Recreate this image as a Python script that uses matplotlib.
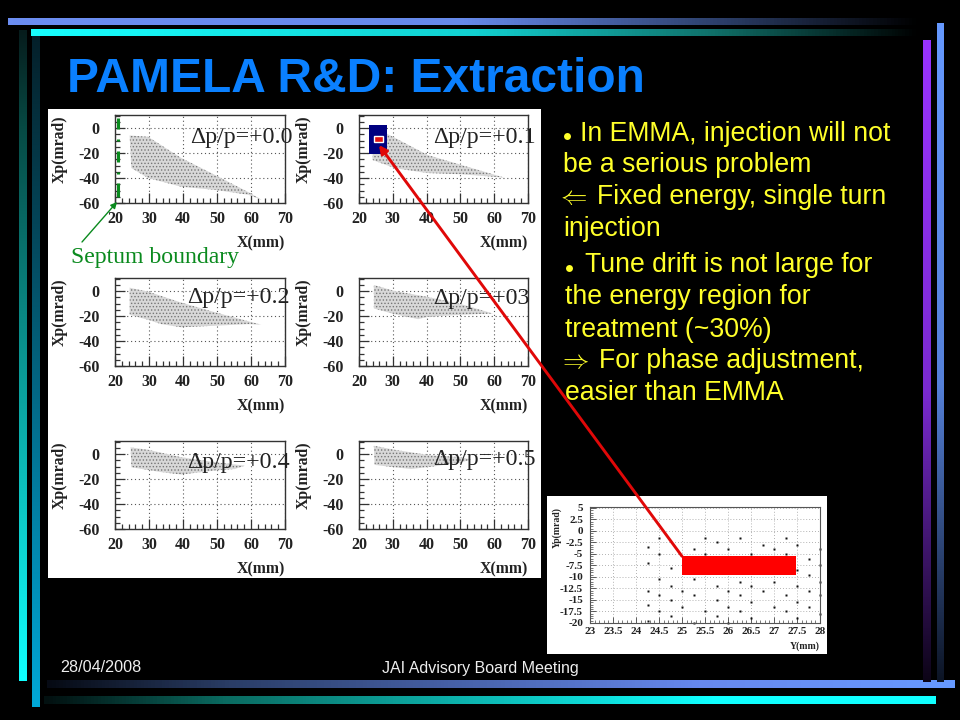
import numpy as np
import matplotlib
matplotlib.use('Agg')
import matplotlib.pyplot as plt
from matplotlib.colors import LinearSegmentedColormap
from matplotlib.patches import Polygon, Rectangle, ConnectionPatch
from matplotlib.ticker import MultipleLocator, FixedLocator, FixedFormatter

W, H = 960, 720
SERIF = 'Liberation Serif'
SANS = 'Liberation Sans'
plt.rcParams['hatch.linewidth'] = 0.6
plt.rcParams['axes.unicode_minus'] = False

# phase space outlines (x mm, xp mrad)
cloud_00 = [(24.3, -6), (29.7, -7), (39.5, -24), (49.4, -37.6), (59.2, -51.3), (63.1, -57.4),
            (59.2, -53.4), (49.4, -49.5), (39.5, -47), (29.7, -40), (24.8, -32)]
cloud_01 = [(24, -2), (28.2, -4.5), (40.4, -21.7), (50.3, -29.6), (63, -39.7),
            (60, -39), (50, -37), (40, -36), (30.5, -32), (24, -25.6)]
cloud_02 = [(24.3, 2.6), (29.7, -0.5), (39.5, -9.3), (49.4, -17), (63, -27),
            (59.2, -26.5), (49.4, -27.8), (39.5, -29), (33.6, -26.5), (29.7, -23), (24.3, -19)]
cloud_03 = [(24.4, 4.8), (30.5, 0), (40.4, -4.8), (50.3, -10.6), (59.6, -18),
            (50.3, -19), (40.4, -20.6), (37.5, -22.5), (30.5, -18.5), (24.4, -14)]
cloud_04 = [(24.6, 5.3), (29.7, 3.4), (39.5, -2.6), (49.4, -6.6), (58.2, -9.3),
            (55.3, -12), (49.4, -13.2), (39.5, -16.4), (33.6, -14.5), (24.8, -10.6)]
cloud_05 = [(24.4, 6.6), (30.5, 3.4), (40.4, -0.8), (50.3, -2.6), (53.2, -4.5),
            (50.3, -6.6), (42.4, -9.8), (35.5, -12), (30.5, -10.6), (24.6, -8.7)]
clouds = [cloud_00, cloud_01, cloud_02, cloud_03, cloud_04, cloud_05]
dp_labels = ['\u0394p/p=+0.0', '\u0394p/p=+0.1', '\u0394p/p=+0.2',
             '\u0394p/p=+03', '\u0394p/p=+0.4', '\u0394p/p=+0.5']

# septum boundary dashes in the first panel (xp from, xp to)
septum_x = 21
septum_segments = [(8, -0.5), (-8.5, -10), (-18, -27), (-35, -36.5), (-44, -55)]

# vertical plane scan, bottom right
scan_y = [24.5, 25.5, 25.75, 26.25, 27.25, 26.75, 27.5, 24.25, 25.25, 26, 27, 24.5, 25.5, 26.5, 27.25,
          28, 27.75, 24.25, 24.75, 27.5, 28, 27.75, 24.5, 25.25, 26.25, 27, 28, 24.75, 25.75, 26.5,
          27.5, 24.25, 25, 26, 26.75, 27.75, 24.5, 25.25, 26.25, 27.25, 28, 24.75, 25.75, 27.5, 26.5,
          24.25, 25, 26, 27, 27.75, 24.5, 25.5, 26.25, 27.25, 28, 24.75, 25.75, 26.5, 27.5, 24.25,
          25.25, 26]
scan_yp = [-1.5, -1.5, -2.5, -1.5, -1.5, -3, -3, -3.5, -4, -4, -4, -5, -5, -5, -5,
           -4, -6, -7, -8, -8.5, -7.5, -9.5, -10.5, -10.5, -11, -11, -11, -12, -12, -12,
           -12, -13, -13, -13, -13, -13, -14, -14, -14, -14, -14, -15, -15, -15.5, -15.5,
           -16, -16.5, -16.5, -16.5, -16.5, -17.5, -17.5, -17.5, -17.5, -18, -18.5, -18.5, -19, -19, -19.5,
           -20, -20]
scan_xticks = [23, 23.5, 24, 24.5, 25, 25.5, 26, 26.5, 27, 27.5, 28]
scan_yticks = [5, 2.5, 0, -2.5, -5, -7.5, -10, -12.5, -15, -17.5, -20]
scan_ylabels = ['5', '2.5', '0', '-2.5', '-5', '-7.5', '-10', '-12.5', '-15', '-17.5', '-20']
acceptance = (25, -9.5, 2.48, 4)

title = 'PAMELA R&D: Extraction'
date_text = '28/04/2008'
footer_text = 'JAI Advisory Board Meeting'


def px_axes(x0, y0, x1, y1, **kw):
    return fig.add_axes([x0 / W, 1 - y1 / H, (x1 - x0) / W, (y1 - y0) / H], **kw)


def bar(x0, x1, y0, y1, stops, vertical=False):
    cmap = LinearSegmentedColormap.from_list('b', stops)
    g = np.linspace(0, 1, 256)
    g = g.reshape(-1, 1) if vertical else g.reshape(1, -1)
    bg.imshow(g, cmap=cmap, extent=(x0, x1, y1, y0), aspect='auto', vmin=0, vmax=1, interpolation='bilinear')


fig = plt.figure(figsize=(9.6, 7.2), dpi=100, facecolor='black')

bg = fig.add_axes([0, 0, 1, 1], zorder=0)
bg.set_facecolor('black')
bar(8, 921, 18, 25, [(0, '#6c8ef2'), (0.5, '#6689ea'), (0.78, '#2c3f6a'), (1, '#000000')])
bar(31, 921, 29, 36, [(0, '#18ffff'), (0.5, '#12d0d0'), (0.77, '#0f6f68'), (1, '#000000')])
bar(19, 27, 30, 681, [(0, '#061c1c'), (0.15, '#064a44'), (1, '#10ffff')], vertical=True)
bar(32, 40, 36, 707, [(0, '#04202a'), (0.2, '#043a4a'), (1, '#00a8d8')], vertical=True)
bar(47, 955, 680, 688, [(0, '#060a14'), (0.2, '#2a3d66'), (0.72, '#6688ee'), (1, '#6699ff')])
bar(44, 936, 696, 704, [(0, '#021010'), (0.2, '#0a6a60'), (0.75, '#10ffff'), (1, '#10ffff')])
bar(923, 931, 40, 682, [(0, '#9933ff'), (0.55, '#7a2ad0'), (1, '#0c0416')], vertical=True)
bar(937, 944, 23, 682, [(0, '#6699ff'), (0.55, '#5580d8'), (1, '#0c1424')], vertical=True)
bg.add_patch(Rectangle((48, 109), 493, 469, fc='white', ec='none'))
bg.add_patch(Rectangle((547, 496), 280, 158, fc='white', ec='none'))
bg.set_xlim(0, W)
bg.set_ylim(H, 0)
bg.axis('off')

bg.text(67, 92, title, family=SANS, weight='bold', fontsize=34.5, color='#0a80ff')
bg.text(60, 672, date_text, family=SANS, fontsize=11.6, color='#eeeeee')
bg.text(382, 673, footer_text, family=SANS, fontsize=11.5, color='#eeeeee')

# yellow bullet text, line by line as on the slide
yellow = '#ffff2a'
body = [(580, 141, 'In EMMA, injection will not'), (563, 172, 'be a serious problem'),
        (597, 204, 'Fixed energy, single turn'), (563, 236, 'injection'),
        (585, 272, 'Tune drift is not large for'), (565, 304, 'the energy region for'),
        (565, 337, 'treatment (~30%)'), (599, 368, 'For phase adjustment,'),
        (565, 400, 'easier than EMMA')]
for x, y, s in body:
    bg.text(x, y, s, family=SANS, fontsize=19.2, color=yellow, zorder=5)
bg.plot([567, 569], [136, 268], 'o', ms=5, color=yellow, mec='none')
bg.text(556, 204, r'$\Leftarrow$', math_fontfamily='cm', fontsize=19, color=yellow)
bg.text(558, 368, r'$\Rightarrow$', math_fontfamily='cm', fontsize=19, color=yellow)

boxes = [(115, 115, 285, 203), (359, 115, 528, 203),
         (115, 278, 285, 366), (359, 278, 528, 366),
         (115, 441, 285, 529), (359, 441, 528, 529)]
label_pos = [(190, 143), (433, 143), (187, 303), (433, 304), (187, 468), (433, 465)]

panels = []
for i, box in enumerate(boxes):
    ax = px_axes(*box, zorder=2)
    ax.set_xlim(20, 70)
    ax.set_ylim(-60, 10.4)
    ax.add_patch(Polygon(clouds[i], closed=True, fc='#d8d8d8', ec='none', zorder=1))
    ax.add_patch(Polygon(clouds[i], closed=True, fc='none', ec='#777777', lw=0, hatch='.....', zorder=1.5))
    ax.xaxis.set_major_locator(MultipleLocator(10))
    ax.xaxis.set_minor_locator(MultipleLocator(2))
    ax.yaxis.set_major_locator(MultipleLocator(20))
    ax.yaxis.set_minor_locator(MultipleLocator(5))
    ax.grid(True, which='major', ls=(0, (1, 2.5)), color='#555555', lw=0.8)
    ax.set_axisbelow(True)
    ax.tick_params(which='major', direction='in', length=7, width=0.9, color='#333333')
    ax.tick_params(which='minor', direction='in', length=3.5, width=0.9, color='#333333')
    ax.tick_params(axis='x', which='major', pad=5.5)
    ax.tick_params(axis='y', which='major', pad=11)
    for lab in ax.get_xticklabels() + ax.get_yticklabels():
        lab.set_family(SERIF)
        lab.set_weight('bold')
        lab.set_fontsize(11.5)
        lab.set_color('#222222')
    for sp in ax.spines.values():
        sp.set_color('#333333')
        sp.set_linewidth(1)
    ax.set_xlabel('X(mm)', family=SERIF, weight='bold', fontsize=11.3, loc='right', labelpad=6.5, color='#222222')
    ax.set_ylabel('Xp(mrad)', family=SERIF, weight='bold', fontsize=11.3, loc='top', labelpad=8, color='#222222')
    panels.append(ax)

for top, bottom in septum_segments:
    panels[0].plot([septum_x, septum_x], [top, bottom], color='#0a8a1e', lw=2.2, solid_capstyle='butt', zorder=3)

# blue scan window and the small acceptance box in panel 2
panels[1].add_patch(Rectangle((23, -21), 5.3, 23.5, fc='#000080', ec='none', zorder=3))
panels[1].add_patch(Rectangle((24.5, -11), 2.7, 4.5, fc='#e01010', ec='white', lw=1, zorder=4))

small = px_axes(590, 507, 820, 623, zorder=2)
small.set_xlim(23, 28)
small.set_ylim(-20, 5.2)
small.plot(scan_y, scan_yp, 's', ms=1.7, color='#111111', mec='none', clip_on=False)
small.add_patch(Rectangle(acceptance[:2], acceptance[2], acceptance[3], fc='#ff0000', ec='none', zorder=4))
small.xaxis.set_major_locator(FixedLocator(scan_xticks))
small.xaxis.set_major_formatter(FixedFormatter([str(t) for t in scan_xticks]))
small.xaxis.set_minor_locator(MultipleLocator(0.1))
small.yaxis.set_major_locator(FixedLocator(scan_yticks))
small.yaxis.set_major_formatter(FixedFormatter(scan_ylabels))
small.yaxis.set_minor_locator(MultipleLocator(0.5))
small.grid(True, which='major', ls=(0, (1, 2.5)), color='#999999', lw=0.6)
small.set_axisbelow(True)
small.tick_params(which='major', direction='in', length=4, width=0.6, color='#444444')
small.tick_params(which='minor', direction='in', length=2, width=0.5, color='#444444')
small.tick_params(axis='x', which='major', pad=3)
small.tick_params(axis='y', which='major', pad=5)
for lab in small.get_xticklabels() + small.get_yticklabels():
    lab.set_family(SERIF)
    lab.set_weight('bold')
    lab.set_fontsize(8)
    lab.set_color('#222222')
for sp in small.spines.values():
    sp.set_color('#555555')
    sp.set_linewidth(0.8)
small.set_xlabel('Y(mm)', family=SERIF, weight='bold', fontsize=7, loc='right', labelpad=4, color='#222222')
small.set_ylabel('Yp(mrad)', family=SERIF, weight='bold', fontsize=7, loc='top', labelpad=-1, color='#222222')

# overlay for the hand-drawn annotations
fg = fig.add_axes([0, 0, 1, 1], zorder=5)
fg.set_xlim(0, W)
fg.set_ylim(H, 0)
fg.axis('off')
for (x, y), s in zip(label_pos, dp_labels):
    fg.text(x, y, s, family=SERIF, fontsize=17.2, color='#222222')
fg.text(71, 263, 'Septum boundary', family=SERIF, fontsize=17.1, color='#0a8a1e')
fg.annotate('', xy=(117, 202), xytext=(82, 242),
            arrowprops=dict(arrowstyle='-|>', color='#0a8a1e', lw=1, shrinkA=0, shrinkB=0, mutation_scale=9))

link = ConnectionPatch(xyA=(25, -5.5), coordsA=small.transData, xyB=(25.9, -13.6), coordsB=panels[1].transData,
                       arrowstyle='-|>', color='#e00808', lw=2.1, mutation_scale=12, shrinkA=0, shrinkB=0, zorder=20)
fig.add_artist(link)

fig.savefig('out.png', dpi=100, facecolor='black')
